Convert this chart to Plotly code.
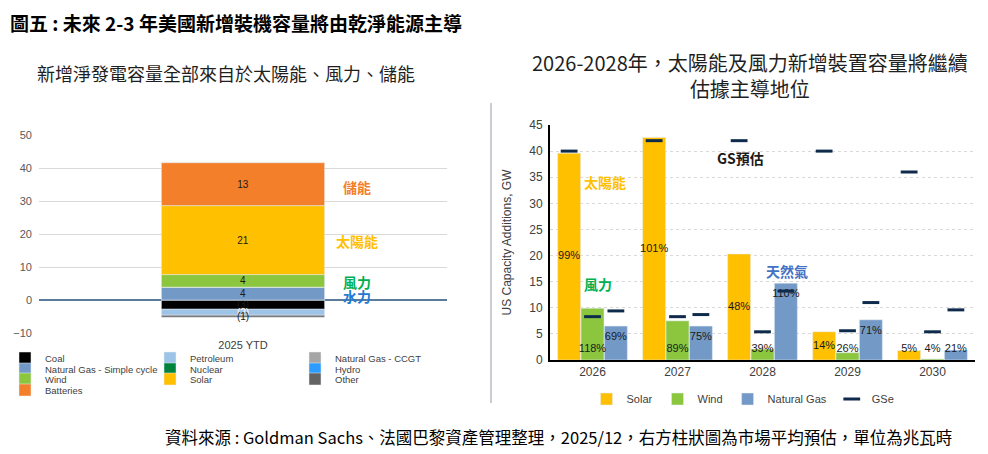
import plotly.graph_objects as go

# left panel: net capacity additions 2025 YTD, GW
ytd_label = '2025 YTD'
sources = ['Coal', 'Petroleum', 'Natural Gas - CCGT', 'Natural Gas - Simple cycle',
           'Nuclear', 'Hydro', 'Wind', 'Solar', 'Other', 'Batteries']
ytd_gw = [-2.8, -1.8, 0, 3.9, 0, 0, 3.8, 20.9, -0.6, 13.0]
source_colors = ['#000000', '#9DC3E6', '#A5A5A5', '#7399C6', '#00843D', '#2E9BFF',
                 '#8CC63F', '#FFC000', '#636363', '#F47F2A']

# right panel: US capacity additions by year, GW (consensus bars, GS estimates as dashes)
years = ['2026', '2027', '2028', '2029', '2030']
solar = [39.6, 42.6, 20.3, 5.4, 1.8]
wind = [9.9, 7.5, 2.1, 1.4, 0.2]
gas = [6.5, 6.5, 14.7, 7.7, 1.9]
solar_gse = [40.0, 42.0, 42.0, 40.0, 36.0]
wind_gse = [8.3, 8.3, 5.4, 5.6, 5.4]
gas_gse = [9.4, 8.7, 13.2, 11.0, 9.6]
solar_pct = ['99%', '101%', '48%', '14%', '5%']
wind_pct = ['118%', '89%', '39%', '26%', '4%']
gas_pct = ['69%', '75%', '110%', '71%', '21%']

# page has an 8px body margin, so the figure is drawn a bit smaller and offset
PAGE_W, PAGE_H, PAD = 988, 454, 8
W, H = PAGE_W - PAD, PAGE_H - PAD
CJK = 'Noto Sans CJK TC'
LAT = 'Liberation Sans, Noto Sans CJK TC'


def px(x):
    return (x - PAD) / W


def py(y):
    return 1 - (y - PAD) / H


def gw_label(v):
    if v == 0:
        return ''
    return str(round(v)) if v > 0 else '(%d)' % round(-v)


fig = go.Figure()

legend_rows = ['legend', 'legend2', 'legend3', 'legend4']
for i, (name, val, col) in enumerate(zip(sources, ytd_gw, source_colors)):
    fig.add_trace(go.Bar(
        x=[ytd_label], y=[val], name=name, marker_color=col, width=0.4,
        text=[gw_label(val)], textposition='inside', insidetextanchor='middle',
        textangle=0, constraintext='none',
        textfont=dict(size=10, color='white' if name == 'Petroleum' else '#1a1a1a'),
        legend=legend_rows[i // 3], xaxis='x', yaxis='y', hoverinfo='skip'))

idx = list(range(len(years)))
gse_x, gse_y = [], []
right_series = [
    ('Solar', solar, solar_gse, solar_pct, '#FFC000', -0.275),
    ('Wind', wind, wind_gse, wind_pct, '#8CC63F', 0.0),
    ('Natural Gas', gas, gas_gse, gas_pct, '#7399C6', 0.275),
]
for name, vals, gse, pct, col, off in right_series:
    xs = [i + off for i in idx]
    fig.add_trace(go.Bar(x=xs, y=vals, width=0.27, name=name, marker_color=col,
                         legend='legend5', xaxis='x2', yaxis='y2'))
    if name == 'Solar':
        ty = [max(v / 2, 2.0) for v in vals]
    elif name == 'Wind':
        ty = [2.0 for v in vals]
    else:
        ty = [max(v - 2.2, 2.0) for v in vals]
    fig.add_trace(go.Scatter(x=xs, y=ty, mode='text', text=pct, showlegend=False,
                             textfont=dict(size=11, color='#1a1a1a', family=LAT),
                             xaxis='x2', yaxis='y2', hoverinfo='skip'))
    gse_x += xs
    gse_y += gse

fig.add_trace(go.Scatter(x=gse_x, y=gse_y, mode='markers', name='GSe',
                         marker=dict(symbol='line-ew', size=12,
                                     line=dict(width=3, color='#0E2B4C')),
                         legend='legend5', xaxis='x2', yaxis='y2'))

leg_common = dict(orientation='h', xanchor='left', yanchor='middle',
                  bgcolor='rgba(0,0,0,0)', font=dict(size=9.5, color='#404040', family=LAT),
                  entrywidth=100, traceorder='normal', itemclick=False)

annos = [
    dict(text='<b>圖五 : 未來 2-3 年美國新增裝機容量將由乾淨能源主導</b>', x=px(8), y=py(23),
         xanchor='left', font=dict(size=19, color='#000000', family=CJK)),
    dict(text='新增淨發電容量全部來自於太陽能、風力、儲能', x=px(226), y=py(73),
         xanchor='center', font=dict(size=18, color='#1f1f1f', family=CJK)),
    dict(text='2026-2028年，太陽能及風力新增裝置容量將繼續<br>估據主導地位', x=px(750), y=py(75),
         xanchor='center', font=dict(size=20, color='#1f1f1f', family=CJK)),
    dict(text='<b>儲能</b>', x=px(357), y=py(187), font=dict(size=14, color='#F47F2A', family=CJK)),
    dict(text='<b>太陽能</b>', x=px(357), y=py(241), font=dict(size=14, color='#FFC000', family=CJK)),
    dict(text='<b>風力</b>', x=px(357), y=py(282), font=dict(size=14, color='#00B050', family=CJK)),
    dict(text='<b>水力</b>', x=px(357), y=py(296), font=dict(size=14, color='#1F7AD1', family=CJK)),
    dict(text='<b>太陽能</b>', x=px(605), y=py(182), font=dict(size=14, color='#FFC000', family=CJK)),
    dict(text='<b>風力</b>', x=px(598), y=py(284), font=dict(size=14, color='#00B050', family=CJK)),
    dict(text='<b>天然氣</b>', x=px(787), y=py(271), font=dict(size=14, color='#4472C4', family=CJK)),
    dict(text='<b>GS預估</b>', x=px(740), y=py(158), font=dict(size=14, color='#1a1a1a', family=CJK)),
    dict(text='資料來源 : Goldman Sachs、法國巴黎資產管理整理，2025/12，右方柱狀圖為市場平均預估，單位為兆瓦時',
         x=px(954), y=py(437), xanchor='right', font=dict(size=16.5, color='#000000', family=CJK)),
]
for a in annos:
    a.update(xref='paper', yref='paper', showarrow=False, yanchor='middle')
    a.setdefault('xanchor', 'center')

fig.update_layout(
    width=W, height=H,
    margin=dict(l=0, r=0, t=0, b=0, autoexpand=False),
    paper_bgcolor='white', plot_bgcolor='white',
    font=dict(family=LAT, size=11, color='#404040'),
    barmode='relative',
    showlegend=True,
    xaxis=dict(domain=[px(39), px(447)], anchor='y', showgrid=False, automargin=False,
               ticklabelstandoff=4, tickfont=dict(size=11, color='#404040')),
    yaxis=dict(domain=[py(333), py(135)], anchor='x', range=[-10, 50], dtick=10,
               automargin=False, ticklabelstandoff=6,
               gridcolor='#D9D9D9', zeroline=True, zerolinecolor='#5B7B9A', zerolinewidth=1.5,
               tickfont=dict(size=11, color='#595959')),
    xaxis2=dict(domain=[px(550), px(975)], anchor='y2', range=[-0.5, 4.5], automargin=False,
                tickvals=idx, ticktext=years, showgrid=False, zeroline=False,
                showline=True, linecolor='#000000', linewidth=2,
                tickfont=dict(size=12, color='#404040')),
    yaxis2=dict(domain=[py(360), py(125)], anchor='x2', range=[0, 45], dtick=5,
                automargin=False, ticklabelstandoff=3,
                gridcolor='#D9D9D9', griddash='dot', zeroline=False,
                showline=True, linecolor='#000000', linewidth=2,
                tickfont=dict(size=12, color='#404040'),
                title=dict(text='US Capacity Additions, GW', font=dict(size=12, color='#404040'))),
    legend=dict(leg_common, x=px(5), y=py(358)),
    legend2=dict(leg_common, x=px(5), y=py(369)),
    legend3=dict(leg_common, x=px(5), y=py(379)),
    legend4=dict(leg_common, x=px(5), y=py(390)),
    legend5=dict(orientation='h', xanchor='center', yanchor='middle', x=px(743), y=py(399),
                 bgcolor='rgba(0,0,0,0)', font=dict(size=11, color='#404040', family=LAT),
                 traceorder='normal'),
    annotations=annos,
    shapes=[dict(type='line', xref='paper', yref='paper', x0=px(491), x1=px(491),
                 y0=py(103), y1=py(403), line=dict(color='#C9CDD2', width=2))],
)

fig.write_html("out.html")
